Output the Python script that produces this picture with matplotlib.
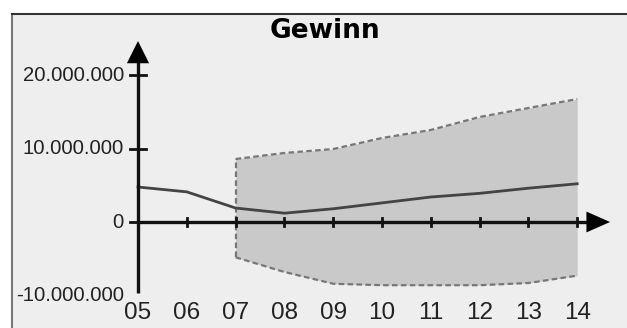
import matplotlib
matplotlib.use("Agg")
import matplotlib.pyplot as plt

plt.rcParams['font.family'] = ['Liberation Sans', 'DejaVu Sans']

# Jahre (05 .. 14) und Werte in Mio.
years = [5, 6, 7, 8, 9, 10, 11, 12, 13, 14]
year_labels = ['05', '06', '07', '08', '09', '10', '11', '12', '13', '14']
gewinn = [4.76, 4.1, 1.9, 1.2, 1.8, 2.6, 3.4, 3.9, 4.6, 5.2]

band_years = [7, 8, 9, 10, 11, 12, 13, 14]
band_upper = [8.57, 9.39, 9.93, 11.43, 12.52, 14.29, 15.51, 16.73]
band_lower = [-4.8, -6.8, -8.4, -8.6, -8.6, -8.6, -8.3, -7.3]

y_ticks = [20, 10, 0, -10]
y_labels = ['20.000.000', '10.000.000', '0', '-10.000.000']

W, H = 627, 328
fig = plt.figure(figsize=(W / 100, H / 100), dpi=100)
fig.patch.set_facecolor('white')
ax = fig.add_axes([12 / W, 0, 615 / W, 314 / H])
ax.set_facecolor('#eeeeee')

# pixel layout: year 05 at x=138, 48.8 px/year; 0 at y=222, 73.5 px per 10 Mio
ax.set_xlim(5 - 126 / 48.8, 5 + 489 / 48.8)
ax.set_ylim(-106 / 7.35, 208 / 7.35)
ax.set_xticks([])
ax.set_yticks([])
for side in ['right', 'bottom']:
    ax.spines[side].set_visible(False)
ax.spines['left'].set_color('#777777')
ax.spines['top'].set_color('#333333')
for side in ['left', 'top']:
    ax.spines[side].set_linewidth(1.5)

# Prognoseband
dash = (0, (2.5, 1.5))
ax.fill_between(band_years, band_lower, band_upper, color='#c9c9c9', lw=0, zorder=1)
ax.plot(band_years, band_upper, color='#777777', lw=1.6, ls=dash, zorder=2)
ax.plot(band_years, band_lower, color='#777777', lw=1.6, ls=dash, zorder=2)
ax.plot([band_years[0], band_years[0]], [band_lower[0], band_upper[0]],
        color='#777777', lw=1.6, ls=dash, zorder=2)

# Achsen mit Pfeilen
ax.plot([5, 5], [-9.7, 22.0], color='#111111', lw=2.4, zorder=4, solid_capstyle='butt')
ax.annotate('', xy=(5, 25.0), xytext=(5, 21.0),
            arrowprops=dict(arrowstyle='-|>,head_width=0.8,head_length=1.6',
                            mutation_scale=10, color='black', lw=0), zorder=5)
ax.plot([5, 14.3], [0, 0], color='#111111', lw=2.4, zorder=4, solid_capstyle='butt')
ax.annotate('', xy=(14.73, 0), xytext=(14.1, 0),
            arrowprops=dict(arrowstyle='-|>,head_width=0.75,head_length=1.7',
                            mutation_scale=10, color='black', lw=0), zorder=5)

# Ticks
for x in years[1:]:
    ax.plot([x, x], [-0.6, 0.6], color='#111111', lw=2, zorder=4)
for y in y_ticks[:-1]:
    ax.plot([5 - 0.16, 5 + 0.16], [y, y], color='#111111', lw=2, zorder=4)

for x, lab in zip(years, year_labels):
    ax.text(x, -12.4, lab, ha='center', va='center', fontsize=17.5, color='#222222')
for y, lab in zip(y_ticks, y_labels):
    ax.text(5 - 14 / 48.8, y, lab, ha='right', va='center', fontsize=14.6, color='#222222')

# Gewinn-Linie
ax.plot(years, gewinn, color='#444444', lw=2, zorder=3)

fig.text(325 / W, 1 - 31 / H, 'Gewinn', ha='center', va='center',
         fontsize=19, fontweight='bold', color='black', family='DejaVu Sans')

fig.savefig('out.png', dpi=100)
